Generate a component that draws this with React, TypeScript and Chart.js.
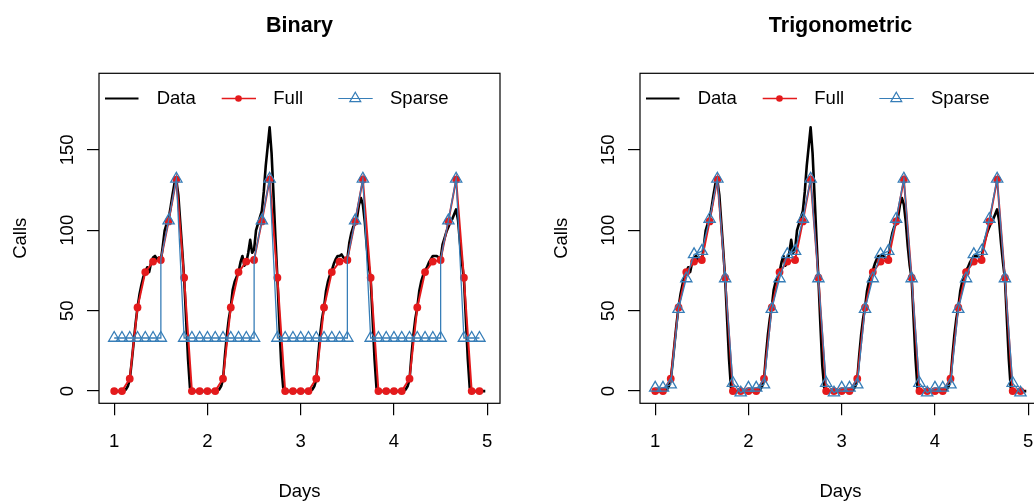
import React, { useEffect, useRef } from "react";
import { Chart, registerables } from "chart.js";

Chart.register(...registerables);

// ---------- data ----------
const days = [1, 2, 3, 4];
const stepsPerDayData = 48; // half-hour observations
const stepsPerDayFit = 12; // two-hour fitted points

const dataDay1 = [
  0, 0, 0, 0, 0, 0, 1, 3, 7, 18, 30, 42, 52, 60, 66, 71, 74, 77, 74, 80, 83, 84, 82, 83,
  81, 90, 100, 104, 107, 114, 122, 129, 131, 122, 105, 88, 70, 45, 20, 2, 0, 0, 0, 0, 0, 0, 0, 0,
];
const dataDay2 = [
  0, 0, 0, 0, 0, 0, 1, 3, 7, 22, 35, 45, 52, 63, 68, 71, 74, 80, 84, 78, 80, 86, 94, 86,
  88, 100, 104, 108, 112, 124, 140, 152, 164, 148, 122, 95, 70, 42, 16, 2, 0, 0, 0, 0, 0, 0, 0, 0,
];
const dataDay3 = [
  0, 0, 0, 0, 0, 0, 1, 3, 7, 22, 35, 45, 52, 62, 68, 72, 75, 79, 82, 84, 84, 85, 83, 82,
  82, 92, 98, 102, 104, 108, 116, 120, 116, 105, 90, 78, 70, 45, 20, 2, 0, 0, 0, 0, 0, 0, 0, 0,
];
const dataDay4 = [
  0, 0, 0, 0, 0, 0, 1, 3, 7, 22, 35, 45, 52, 62, 68, 72, 75, 77, 80, 82, 84, 84, 84, 83,
  82, 91, 95, 99, 102, 105, 107, 110, 113, 106, 92, 80, 70, 45, 20, 2, 0, 0, 0, 0, 0, 0, 0, 0,
];

const fullBinary = [
  0, 0, 7.7, 52, 74, 80.5, 81.5, 105.5, 131.5, 70.5, 0, 0,
  0, 0, 7.7, 52, 74, 80.5, 81.5, 105.5, 131.5, 70.5, 0, 0,
  0, 0, 7.7, 52, 74, 80.5, 81.5, 105.5, 131.5, 70.5, 0, 0,
  0, 0, 7.7, 52, 74, 80.5, 81.5, 105.5, 131.5, 70.5, 0, 0,
];
const sparseBinary = [
  33, 33, 33, 33, 33, 33, 33, 106, 132, 33, 33, 33,
  33, 33, 33, 33, 33, 33, 33, 106, 132, 33, 33, 33,
  33, 33, 33, 33, 33, 33, 33, 106, 132, 33, 33, 33,
  33, 33, 33, 33, 33, 33, 33, 106, 132, 33, 33, 33,
];
// value the sparse binary line jumps to right after the 12:00 point of each day
const sparseBinaryJump = [82, 82, 82, 82];

const fullTrig = [
  0, 0, 7.7, 52, 74, 80.5, 81.5, 105.5, 131.5, 70.5, 0, 0,
  0, 0, 7.7, 52, 74, 80.5, 81.5, 105.5, 131.5, 70.5, 0, 0,
  0, 0, 7.7, 52, 74, 80.5, 81.5, 105.5, 131.5, 70.5, 0, 0,
  0, 0, 7.7, 52, 74, 80.5, 81.5, 105.5, 131.5, 70.5, 0, 0,
];
const sparseTrig = [
  2, 2, 4, 51, 70, 85, 87, 107, 132, 70, 5, -1,
  2, 2, 4, 51, 70, 85, 87, 107, 132, 70, 5, -1,
  2, 2, 4, 51, 70, 85, 87, 107, 132, 70, 5, -1,
  2, 2, 4, 51, 70, 85, 87, 107, 132, 70, 5, -1,
];

const xTicks = [1, 2, 3, 4, 5];
const yTicks = [0, 50, 100, 150];
const legendLabels = ["Data", "Full", "Sparse"];
const panelTitles = ["Binary", "Trigonometric"];
const xTitle = "Days";
const yTitle = "Calls";

// ---------- styles ----------
const FONT = '"Liberation Sans", Arial, Helvetica, sans-serif';
const RED = "#E41A1C";
const BLUE = "#377EB8";
const W = 541;
const H = 502;

Chart.defaults.font.family = FONT;
Chart.defaults.font.size = 18.5;
Chart.defaults.color = "#000";

type Pt = { x: number; y: number; m?: boolean };

function dataPoints(): Pt[] {
  const all = [dataDay1, dataDay2, dataDay3, dataDay4];
  const out: Pt[] = [];
  all.forEach((arr, d) => arr.forEach((v, j) => out.push({ x: days[d] + j / stepsPerDayData, y: v })));
  return out;
}

function fitPoints(vals: number[], jumps: number[] | null): Pt[] {
  const out: Pt[] = [];
  vals.forEach((v, i) => {
    const x = days[0] + i / stepsPerDayFit;
    out.push({ x, y: v, m: true });
    if (jumps && i % stepsPerDayFit === 6) {
      out.push({ x: x + 0.0004, y: jumps[Math.floor(i / stepsPerDayFit)], m: false });
    }
  });
  return out;
}

function decorPlugin(title: string) {
  return {
    id: "decor",
    afterDatasetsDraw(chart: any) {
      const { ctx, chartArea: a } = chart;
      ctx.save();
      ctx.strokeStyle = "#000";
      ctx.lineWidth = 1.2;
      ctx.strokeRect(a.left, a.top, a.right - a.left, a.bottom - a.top);

      ctx.fillStyle = "#000";
      ctx.font = `bold 21.5px ${FONT}`;
      ctx.textAlign = "center";
      ctx.textBaseline = "alphabetic";
      ctx.fillText(title, (a.left + a.right) / 2, 31.5);

      const ly = a.top + 25.2;
      const L = a.left;
      ctx.font = `18.5px ${FONT}`;
      ctx.textAlign = "left";
      ctx.textBaseline = "middle";
      // Data
      ctx.strokeStyle = "#000";
      ctx.lineWidth = 1.8;
      ctx.beginPath();
      ctx.moveTo(L + 6, ly);
      ctx.lineTo(L + 39.5, ly);
      ctx.stroke();
      ctx.fillText(legendLabels[0], L + 57.7, ly);
      // Full
      ctx.strokeStyle = RED;
      ctx.lineWidth = 1.5;
      ctx.beginPath();
      ctx.moveTo(L + 122.7, ly);
      ctx.lineTo(L + 157, ly);
      ctx.stroke();
      ctx.fillStyle = RED;
      ctx.beginPath();
      ctx.arc(L + 139.5, ly, 3.3, 0, Math.PI * 2);
      ctx.fill();
      ctx.fillStyle = "#000";
      ctx.fillText(legendLabels[1], L + 174.3, ly);
      // Sparse
      ctx.strokeStyle = BLUE;
      ctx.lineWidth = 1.2;
      ctx.beginPath();
      ctx.moveTo(L + 239.3, ly);
      ctx.lineTo(L + 273.7, ly);
      ctx.stroke();
      const r = 6.3;
      const cx = L + 256.3;
      ctx.beginPath();
      ctx.moveTo(cx, ly - r);
      ctx.lineTo(cx + r * 0.866, ly + r / 2);
      ctx.lineTo(cx - r * 0.866, ly + r / 2);
      ctx.closePath();
      ctx.stroke();
      ctx.fillStyle = "#000";
      ctx.fillText(legendLabels[2], L + 291, ly);
      ctx.restore();
    },
  };
}

function Panel({ left, title, full, sparse, jumps }: { left: number; title: string; full: number[]; sparse: number[]; jumps: number[] | null }) {
  const ref = useRef<HTMLCanvasElement>(null);
  useEffect(() => {
    const sparsePts = fitPoints(sparse, jumps);
    const chart = new Chart(ref.current!, {
      type: "line",
      data: {
        datasets: [
          {
            label: legendLabels[2],
            data: sparsePts as any,
            borderColor: BLUE,
            borderWidth: 1.3,
            pointStyle: "triangle",
            pointRadius: sparsePts.map((p) => (p.m ? 6.5 : 0)),
            pointBackgroundColor: "rgba(0,0,0,0)",
            pointBorderColor: BLUE,
            pointBorderWidth: 1.3,
            tension: 0,
            order: 1,
          },
          {
            label: legendLabels[1],
            data: fitPoints(full, null) as any,
            borderColor: RED,
            borderWidth: 2,
            pointStyle: "circle",
            pointRadius: 3.9,
            pointBackgroundColor: RED,
            pointBorderWidth: 0,
            tension: 0,
            order: 2,
          },
          {
            label: legendLabels[0],
            data: dataPoints() as any,
            borderColor: "#000",
            borderWidth: 2.6,
            pointRadius: 0,
            tension: 0,
            borderJoinStyle: "round",
            order: 3,
          },
        ],
      },
      options: {
        animation: false,
        responsive: false,
        devicePixelRatio: 1,
        layout: { padding: { left: 0, top: 73.3, right: 41, bottom: 0 } },
        plugins: { legend: { display: false }, tooltip: { enabled: false }, title: { display: false } },
        scales: {
          x: {
            type: "linear",
            min: 0.837,
            max: 5.137,
            afterBuildTicks: (s: any) => {
              s.ticks = xTicks.map((v) => ({ value: v }));
            },
            afterFit: (s: any) => {
              s.height = 98.7;
            },
            ticks: { autoSkip: false, padding: 16, color: "#000", maxRotation: 0, minRotation: 0, font: { size: 18.5 } },
            grid: { drawOnChartArea: false, drawTicks: true, tickLength: 12, color: "#000", lineWidth: 1.2 },
            border: { display: false },
            title: { display: true, text: xTitle, color: "#000", font: { size: 18.5, lineHeight: 1 }, padding: { top: 0, bottom: 1 } },
          },
          y: {
            type: "linear",
            min: -7.6,
            max: 197.6,
            afterBuildTicks: (s: any) => {
              s.ticks = yTicks.map((v) => ({ value: v }));
            },
            afterFit: (s: any) => {
              s.width = 99;
            },
            ticks: { autoSkip: false, padding: 4, color: "#000", minRotation: 90, maxRotation: 90, crossAlign: "center", font: { size: 18.5 } },
            grid: { drawOnChartArea: false, drawTicks: true, tickLength: 12, color: "#000", lineWidth: 1.2 },
            border: { display: false },
            title: { display: true, text: yTitle, color: "#000", font: { size: 18.5, lineHeight: 1 }, padding: { top: 12, bottom: 0 } },
          },
        },
      },
      plugins: [decorPlugin(title)],
    } as any);
    return () => chart.destroy();
  }, []);
  return <canvas ref={ref} width={W} height={H} style={{ position: "absolute", left, top: 0, width: W, height: H }} />;
}

export default function App() {
  return (
    <div style={{ position: "fixed", left: 0, top: 0, width: 1034, height: 502, overflow: "hidden", background: "#fff" }}>
      <Panel left={0} title={panelTitles[0]} full={fullBinary} sparse={sparseBinary} jumps={sparseBinaryJump} />
      <Panel left={541} title={panelTitles[1]} full={fullTrig} sparse={sparseTrig} jumps={null} />
    </div>
  );
}
